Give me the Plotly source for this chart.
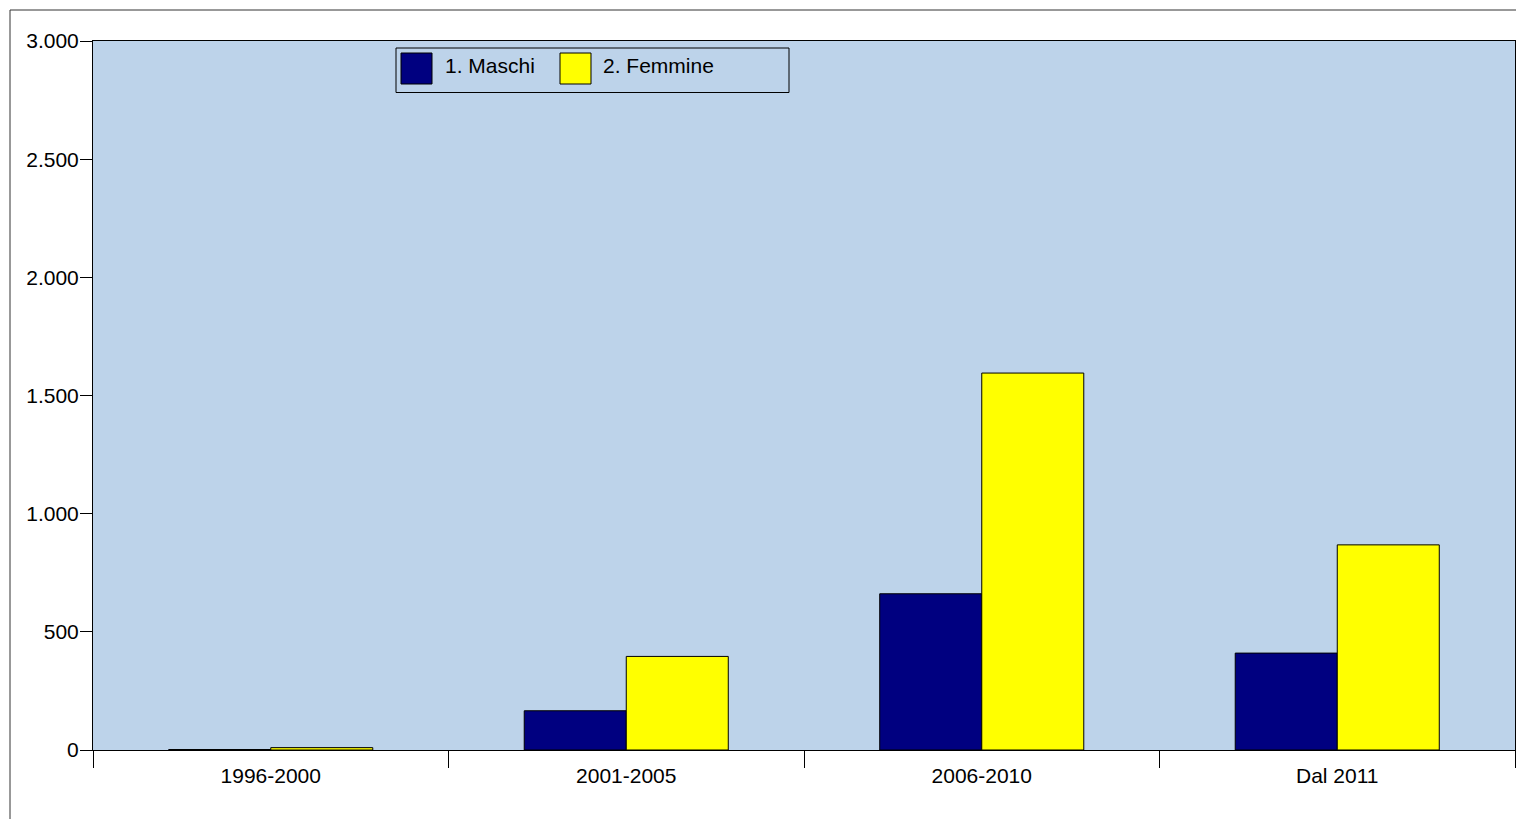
import plotly.graph_objects as go

categories = ["1996-2000", "2001-2005", "2006-2010", "Dal 2011"]
maschi = [2, 166, 661, 410]
femmine = [10, 396, 1595, 868]
series_names = ["1. Maschi", "2. Femmine"]
series_colors = ["#000080", "#FFFF00"]
y_ticks = [0, 500, 1000, 1500, 2000, 2500, 3000]

W, H = 1524, 819
OFF = 8  # page body margin
# plot area in screenshot pixels: x 93..1515, y 41..750
L, T = 93 - OFF, 41 - OFF
R = W - (1515 - OFF)
B = H - (750 - OFF)
pw = W - L - R
ph = H - T - B


def px(x):
    return (x - OFF - L) / pw


def py(y):
    return 1 - (y - OFF - T) / ph


fig = go.Figure()
for name, vals, col in zip(series_names, [maschi, femmine], series_colors):
    fig.add_trace(go.Bar(x=categories, y=vals, name=name,
                         marker=dict(color=col, line=dict(color="black", width=1))))

font = dict(family="Liberation Sans, Arial, sans-serif", size=21, color="black")

shapes = [
    # outer frame
    dict(type="rect", xref="paper", yref="paper",
         x0=px(10), x1=px(W + 30), y0=py(H + 30), y1=py(10),
         line=dict(color="#333333", width=1), fillcolor="rgba(0,0,0,0)", layer="below"),
    # legend box
    dict(type="rect", xref="paper", yref="paper",
         x0=px(396), x1=px(789), y0=py(92.5), y1=py(48),
         line=dict(color="black", width=1), fillcolor="rgba(0,0,0,0)"),
]
annotations = []
sw_x = [401, 560]
tx_x = [443, 601]
for name, col, sx, tx in zip(series_names, series_colors, sw_x, tx_x):
    shapes.append(dict(type="rect", xref="paper", yref="paper",
                       x0=px(sx), x1=px(sx + 31), y0=py(84), y1=py(53),
                       line=dict(color="black", width=1), fillcolor=col))
    annotations.append(dict(text=name, xref="paper", yref="paper",
                            x=px(tx), y=py(66), xanchor="left", yanchor="middle",
                            showarrow=False, font=font))

fig.update_layout(
    width=W, height=H,
    margin=dict(l=L, r=R, t=T, b=B, pad=0),
    paper_bgcolor="white",
    plot_bgcolor="#BDD3EA",
    barmode="group",
    bargap=0.426,
    bargroupgap=0,
    separators=",.",
    font=font,
    showlegend=False,
    xaxis=dict(
        showline=True, linecolor="black", linewidth=1, mirror=True,
        ticks="outside", tickson="boundaries", ticklen=17, tickcolor="black",
        ticklabelstandoff=7,
        showgrid=False, zeroline=False, tickfont=font,
    ),
    yaxis=dict(
        range=[0, 3000],
        tickvals=y_ticks, tickformat=",d",
        showline=True, linecolor="black", linewidth=1, mirror=True,
        ticks="outside", ticklen=12, tickcolor="black",
        ticklabelstandoff=-3,
        showgrid=False, zeroline=False, tickfont=font,
    ),
    shapes=shapes,
    annotations=annotations,
)

fig.write_html("out.html")
